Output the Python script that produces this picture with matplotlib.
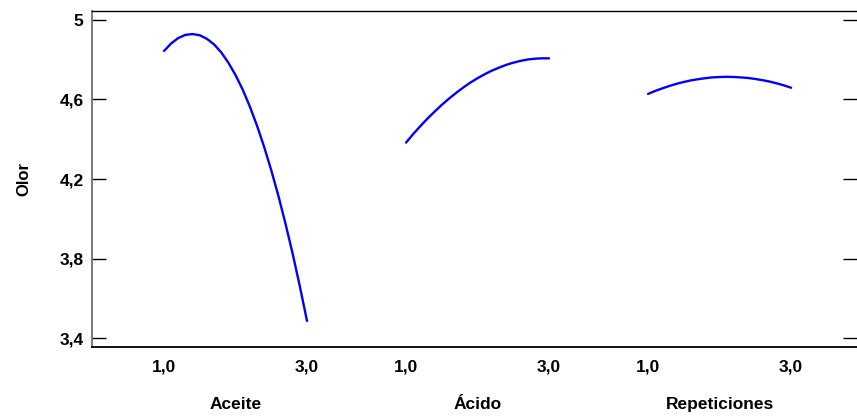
import matplotlib.pyplot as plt
import numpy as np

plt.rcParams['font.family'] = ['Liberation Sans', 'DejaVu Sans']

factors = ['Aceite', 'Ácido', 'Repeticiones']
levels = [1.0, 1.1, 1.2, 1.3, 1.4, 1.5, 1.6, 1.7, 1.8, 1.9, 2.0,
          2.1, 2.2, 2.3, 2.4, 2.5, 2.6, 2.7, 2.8, 2.9, 3.0]
olor_aceite = [4.844, 4.882, 4.909, 4.925, 4.929, 4.923, 4.905, 4.877, 4.837, 4.785, 4.723,
               4.650, 4.565, 4.469, 4.362, 4.244, 4.115, 3.974, 3.823, 3.660, 3.486]
olor_acido = [4.383, 4.426, 4.466, 4.504, 4.539, 4.573, 4.604, 4.633, 4.660, 4.685, 4.707,
              4.727, 4.745, 4.760, 4.774, 4.785, 4.794, 4.801, 4.805, 4.807, 4.807]
olor_repet = [4.628, 4.643, 4.656, 4.668, 4.679, 4.688, 4.696, 4.702, 4.707, 4.711, 4.713,
              4.714, 4.713, 4.711, 4.708, 4.703, 4.697, 4.690, 4.681, 4.671, 4.659]
yticks = [3.4, 3.8, 4.2, 4.6, 5.0]
ytick_labels = ['3,4', '3,8', '4,2', '4,6', '5']
xtick_labels = ['1,0', '3,0']

offset = 3.385  # spacing between factor panels along x

fig = plt.figure(figsize=(8.57, 4.17), dpi=100)
ax = fig.add_axes([92 / 857, 1 - 347 / 417, 1 - 92 / 857, 336 / 417])

series = [olor_aceite, olor_acido, olor_repet]
xt, xl = [], []
for k, ys in enumerate(series):
    xs = np.array(levels) + k * offset
    ax.plot(xs, ys, color='#0000ff', lw=1.7, solid_capstyle='round')
    xt += [levels[0] + k * offset, levels[-1] + k * offset]
    xl += xtick_labels
    mid = (levels[0] + levels[-1]) / 2 + k * offset
    ax.text(mid, -0.1726, factors[k], transform=ax.get_xaxis_transform(),
            ha='center', va='center', fontsize=12.5, fontweight='bold')

ax.set_xlim(-0.007, 10.692)
ax.set_ylim(3.355, 5.045)

ax.set_yticks(yticks)
ax.set_yticklabels(ytick_labels)
ax.set_xticks(xt)
ax.set_xticklabels(xl)

ax.tick_params(axis='y', direction='in', length=10, width=1.0, pad=6,
               labelsize=12.5, right=True, left=True)
ax.tick_params(axis='x', length=0, pad=9, labelsize=12.5)
for lab in ax.get_xticklabels() + ax.get_yticklabels():
    lab.set_fontweight('bold')

ax.set_ylabel('Olor', fontsize=12, fontweight='bold', labelpad=20)

ax.spines['right'].set_visible(False)
ax.spines['left'].set_color('#707070')
ax.spines['left'].set_linewidth(1.3)
ax.spines['bottom'].set_linewidth(1.3)
ax.spines['top'].set_linewidth(1.0)

fig.savefig('out.png', dpi=100)
